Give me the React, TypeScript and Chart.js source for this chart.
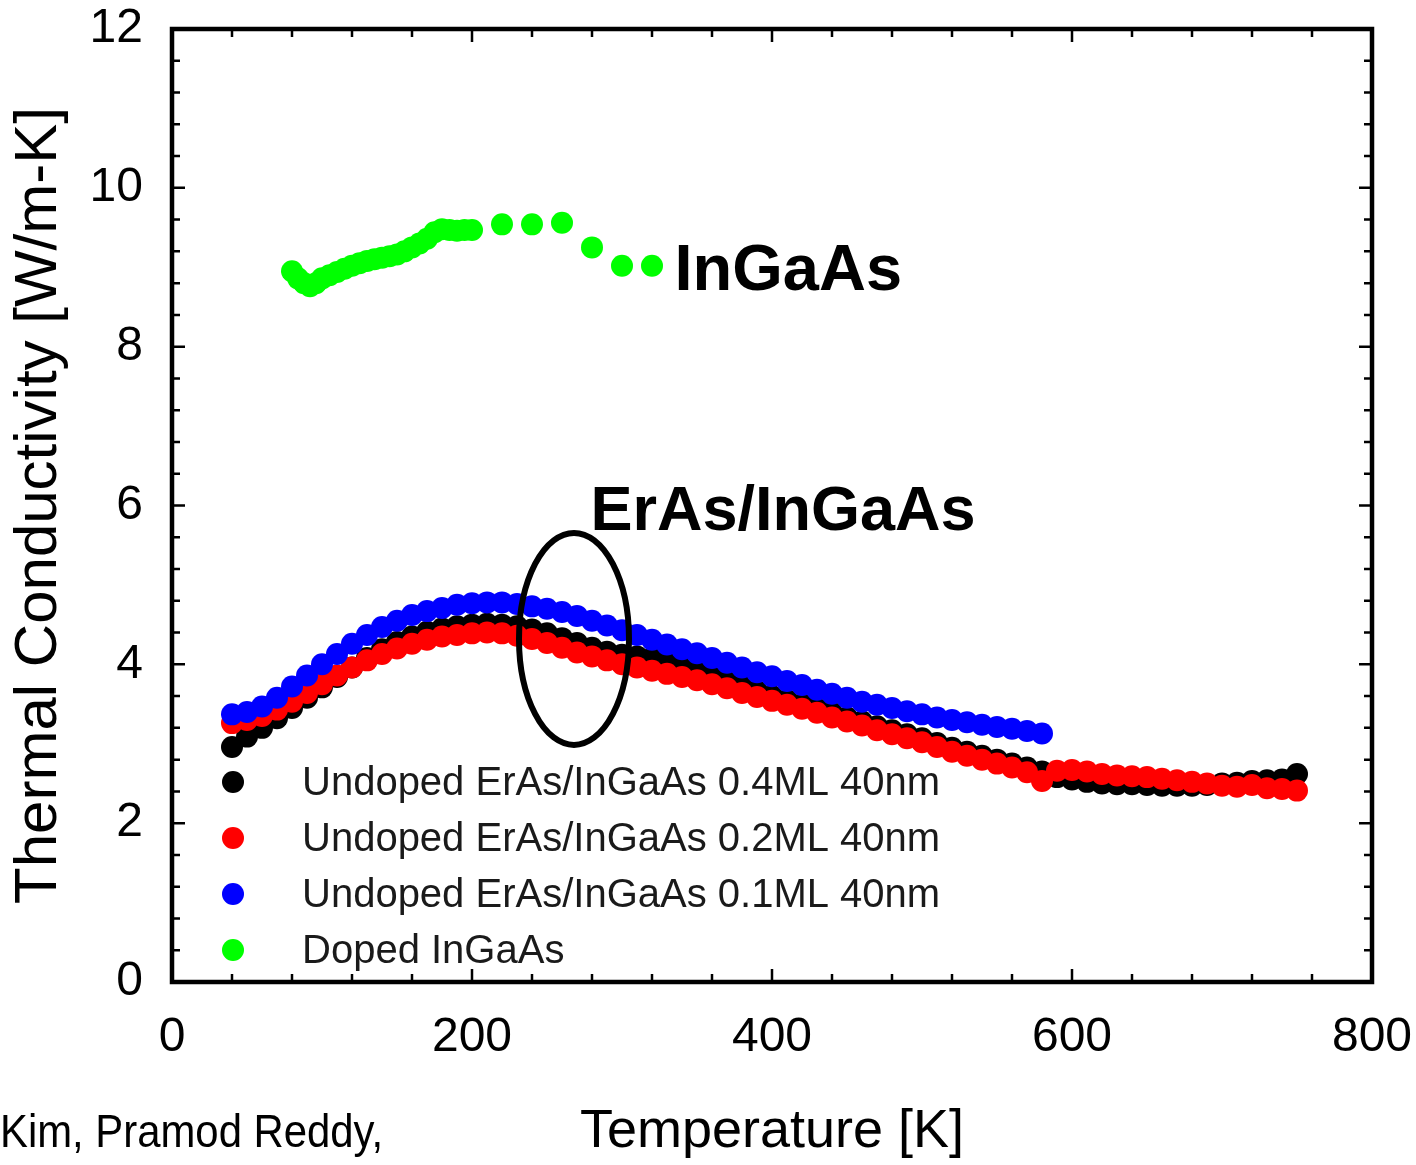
import React, { useEffect, useRef } from "react";
import { Chart, registerables } from "chart.js";

Chart.register(...registerables);

// ---------- data ----------
const seriesLabels = [
  "Undoped ErAs/InGaAs 0.4ML 40nm",
  "Undoped ErAs/InGaAs 0.2ML 40nm",
  "Undoped ErAs/InGaAs 0.1ML 40nm",
  "Doped InGaAs",
];
const seriesColors = ["#000000", "#ff0000", "#0000ff", "#00ff00"];

const tempsErAs = [
  40, 50, 60, 70, 80, 90, 100, 110, 120, 130, 140, 150, 160, 170, 180, 190, 200, 210, 220, 230,
  240, 250, 260, 270, 280, 290, 300, 310, 320, 330, 340, 350, 360, 370, 380, 390, 400, 410, 420, 430,
  440, 450, 460, 470, 480, 490, 500, 510, 520, 530, 540, 550, 560, 570, 580, 590, 600, 610, 620, 630,
  640, 650, 660, 670, 680, 690, 700, 710, 720, 730, 740, 750,
];
const k04ML = [
  2.96, 3.09, 3.2, 3.32, 3.45, 3.58, 3.71, 3.84, 3.96, 4.08, 4.19, 4.28, 4.35, 4.41, 4.45, 4.48, 4.5, 4.51, 4.5, 4.48,
  4.44, 4.39, 4.33, 4.27, 4.21, 4.16, 4.12, 4.1, 4.08, 4.05, 4.0, 3.92, 3.84, 3.78, 3.72, 3.66, 3.6, 3.55, 3.5, 3.44,
  3.39, 3.33, 3.28, 3.22, 3.17, 3.12, 3.07, 3.01, 2.95, 2.9, 2.85, 2.8, 2.75, 2.7, 2.65, 2.58, 2.55, 2.52, 2.5, 2.49,
  2.49, 2.48, 2.47, 2.47, 2.47, 2.48, 2.5, 2.51, 2.53, 2.54, 2.55, 2.62,
];
const k02ML = [
  3.26, 3.3, 3.35, 3.43, 3.53, 3.64, 3.75, 3.86, 3.96, 4.05, 4.13, 4.2, 4.26, 4.31, 4.35, 4.37, 4.39, 4.4, 4.39, 4.36,
  4.32, 4.27, 4.21, 4.15, 4.1, 4.05, 4.0, 3.96, 3.92, 3.88, 3.84, 3.8, 3.75, 3.7, 3.64, 3.59, 3.54, 3.49, 3.44, 3.39,
  3.33, 3.28, 3.23, 3.17, 3.12, 3.07, 3.02, 2.96, 2.9, 2.85, 2.8, 2.75, 2.7, 2.64, 2.53, 2.66, 2.67, 2.65, 2.62, 2.6,
  2.59, 2.58, 2.56, 2.54, 2.52, 2.5, 2.47, 2.46, 2.48, 2.44, 2.43, 2.41,
];
const temps01ML = [
  40, 50, 60, 70, 80, 90, 100, 110, 120, 130, 140, 150, 160, 170, 180, 190, 200, 210, 220, 230,
  240, 250, 260, 270, 280, 290, 300, 310, 320, 330, 340, 350, 360, 370, 380, 390, 400, 410, 420, 430,
  440, 450, 460, 470, 480, 490, 500, 510, 520, 530, 540, 550, 560, 570, 580,
];
const k01ML = [
  3.37, 3.4, 3.47, 3.58, 3.72, 3.86, 4.0, 4.13, 4.26, 4.37, 4.47, 4.55, 4.62, 4.67, 4.71, 4.75, 4.77, 4.78, 4.78, 4.76,
  4.73, 4.7, 4.66, 4.61, 4.55, 4.49, 4.43, 4.37, 4.31, 4.25, 4.19, 4.14, 4.08, 4.02, 3.96, 3.9, 3.85, 3.79, 3.74, 3.68,
  3.63, 3.58, 3.53, 3.49, 3.45, 3.41, 3.37, 3.33, 3.3, 3.27, 3.24, 3.21, 3.19, 3.16, 3.13,
];
const tempsDoped = [
  80, 84, 88, 92, 96, 100, 105, 110, 115, 120, 125, 130, 135, 140, 145, 150, 155, 160, 165, 170,
  175, 180, 185, 190, 195, 200, 220, 240, 260, 280, 300, 320,
];
const kDoped = [
  8.95, 8.86, 8.8, 8.76, 8.8, 8.86, 8.9, 8.94, 8.98, 9.02, 9.05, 9.08, 9.1, 9.12, 9.14, 9.16, 9.2, 9.25, 9.3, 9.36,
  9.44, 9.48, 9.47, 9.46, 9.47, 9.47, 9.54, 9.54, 9.56, 9.25, 9.02, 9.02,
];

const xTickValues = [0, 200, 400, 600, 800];
const yTickValues = [0, 2, 4, 6, 8, 10, 12];
const xTitle = "Temperature [K]";
const yTitle = "Thermal Conductivity [W/m-K]";
const labelInGaAs = "InGaAs";
const labelErAs = "ErAs/InGaAs";
const creditText = "Kim, Pramod Reddy,";

const FONT = '"Liberation Sans", Arial, Helvetica, sans-serif';

function pts(xs: number[], ys: number[]) {
  return xs.map((x, i) => ({ x, y: ys[i] }));
}

const decorPlugin = {
  id: "decor",
  afterDatasetsDraw(chart: any) {
    const { ctx, chartArea: a, scales } = chart;
    const xs = scales.x;
    const ys = scales.y;
    ctx.save();
    ctx.strokeStyle = "#000";
    ctx.lineCap = "butt";
    // minor / major ticks, inward on all four sides
    ctx.lineWidth = 2.5;
    for (let i = 0; i <= 20; i++) {
      const v = i * 40;
      const px = xs.getPixelForValue(v);
      const len = i % 5 === 0 ? 13 : 8;
      ctx.beginPath();
      ctx.moveTo(px, a.bottom);
      ctx.lineTo(px, a.bottom - len);
      ctx.moveTo(px, a.top);
      ctx.lineTo(px, a.top + len);
      ctx.stroke();
    }
    for (let i = 0; i <= 30; i++) {
      const v = i * 0.4;
      const py = ys.getPixelForValue(v);
      const len = i % 5 === 0 ? 13 : 8;
      ctx.beginPath();
      ctx.moveTo(a.left, py);
      ctx.lineTo(a.left + len, py);
      ctx.moveTo(a.right, py);
      ctx.lineTo(a.right - len, py);
      ctx.stroke();
    }
    ctx.lineWidth = 4.5;
    ctx.strokeRect(a.left, a.top, a.right - a.left, a.bottom - a.top);

    // ellipse highlighting the ErAs/InGaAs curves
    ctx.lineWidth = 6;
    ctx.beginPath();
    ctx.ellipse(xs.getPixelForValue(268), ys.getPixelForValue(4.32), 55, 106, 0, 0, Math.PI * 2);
    ctx.stroke();

    // annotations
    ctx.fillStyle = "#000";
    ctx.textBaseline = "alphabetic";
    ctx.textAlign = "left";
    ctx.font = `bold 65px ${FONT}`;
    ctx.fillText(labelInGaAs, xs.getPixelForValue(335), ys.getPixelForValue(8.71));
    ctx.font = `bold 63px ${FONT}`;
    ctx.fillText(labelErAs, xs.getPixelForValue(279), ys.getPixelForValue(5.69));

    // legend
    const lx = a.left + 61;
    const tx = a.left + 130;
    const firstRow = a.bottom - 200;
    ctx.font = `40px ${FONT}`;
    ctx.textBaseline = "middle";
    seriesLabels.forEach((lab, i) => {
      const yy = firstRow + i * 56;
      ctx.fillStyle = seriesColors[i];
      ctx.beginPath();
      ctx.arc(lx, yy, 11, 0, Math.PI * 2);
      ctx.fill();
      ctx.fillStyle = "#1a1a1a";
      ctx.fillText(lab, tx, yy + 2);
    });

    // credit text at bottom left
    ctx.save();
    ctx.fillStyle = "#000";
    ctx.textBaseline = "alphabetic";
    ctx.font = `46px ${FONT}`;
    ctx.translate(0, 1147);
    ctx.scale(0.91, 1);
    ctx.fillText(creditText, 0, 0);
    ctx.restore();

    ctx.restore();
  },
};

export default function App() {
  const canvasRef = useRef<HTMLCanvasElement | null>(null);

  useEffect(() => {
    document.body.style.margin = "0";
    const canvas = canvasRef.current;
    if (!canvas) return;
    const mk = (i: number, data: { x: number; y: number }[], order: number) => ({
      label: seriesLabels[i],
      data,
      backgroundColor: seriesColors[i],
      borderColor: seriesColors[i],
      pointRadius: 11,
      pointHoverRadius: 11,
      pointBorderWidth: 0,
      showLine: false,
      order,
    });
    const chart = new Chart(canvas, {
      type: "scatter",
      data: {
        datasets: [
          mk(0, pts(tempsErAs, k04ML), 4),
          mk(1, pts(tempsErAs, k02ML), 3),
          mk(2, pts(temps01ML, k01ML), 2),
          mk(3, pts(tempsDoped, kDoped), 1),
        ],
      },
      options: {
        responsive: false,
        animation: false,
        events: [],
        layout: { padding: { top: 29, right: 44, left: 0, bottom: 0 } },
        plugins: { legend: { display: false }, tooltip: { enabled: false } },
        scales: {
          x: {
            type: "linear",
            min: 0,
            max: 800,
            afterBuildTicks: (s: any) => {
              s.ticks = xTickValues.map((v) => ({ value: v }));
            },
            afterFit: (s: any) => {
              s.height = 183;
              s.paddingLeft = 0;
              s.paddingRight = 0;
            },
            grid: { display: false, drawTicks: false },
            border: { display: false },
            ticks: {
              padding: 27,
              color: "#000",
              font: { family: FONT, size: 48 },
              maxRotation: 0,
            },
            title: {
              display: true,
              text: xTitle,
              color: "#000",
              font: { family: FONT, size: 54 },
              padding: { top: 0, bottom: 0 },
            },
          },
          y: {
            type: "linear",
            min: 0,
            max: 12,
            afterBuildTicks: (s: any) => {
              s.ticks = yTickValues.map((v) => ({ value: v }));
            },
            afterFit: (s: any) => {
              s.width = 172;
              s.paddingTop = 0;
              s.paddingBottom = 0;
            },
            grid: { display: false, drawTicks: false },
            border: { display: false },
            ticks: {
              padding: 29,
              color: "#000",
              font: { family: FONT, size: 48 },
            },
            title: {
              display: true,
              text: yTitle,
              color: "#000",
              font: { family: FONT, size: 60 },
              padding: { top: 3, bottom: 0 },
            },
          },
        },
      },
      plugins: [decorPlugin],
    });
    return () => chart.destroy();
  }, []);

  return (
    <div style={{ width: 1416, height: 1165, background: "#fff" }}>
      <canvas ref={canvasRef} width={1416} height={1165} style={{ display: "block" }} />
    </div>
  );
}
